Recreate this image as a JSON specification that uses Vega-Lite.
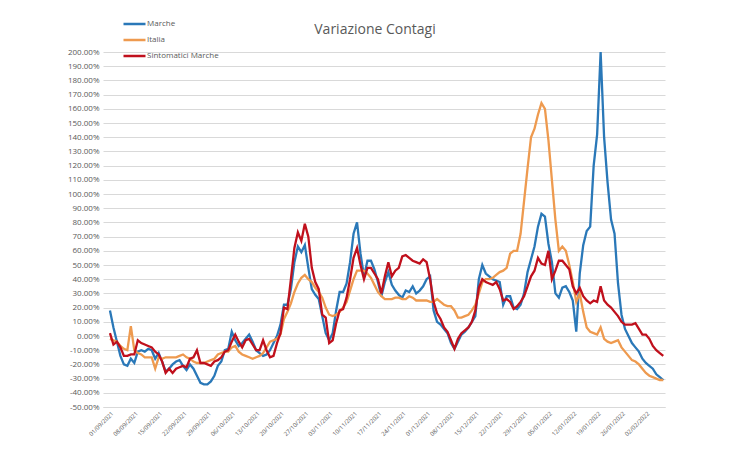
{
  "$schema": "https://vega.github.io/schema/vega-lite/v6.json",
  "width": 562,
  "height": 355,
  "autosize": {"type": "none"},
  "padding": {"left": 103, "top": 52, "right": 85, "bottom": 43},
  "background": "white",
  "config": {"view": {"stroke": null}, "font": "Open Sans"},
  "title": {"text": "Variazione Contagi", "fontSize": 14, "fontWeight": "normal", "color": "#595959", "anchor": "middle", "offset": -21, "dx": -9},
  "data": {"values": [
    {"giorno": "2021-09-01", "Marche": 18, "Italia": -2, "Sintomatici Marche": 2},
    {"giorno": "2021-09-02", "Marche": 6, "Italia": -3, "Sintomatici Marche": -6},
    {"giorno": "2021-09-03", "Marche": -4, "Italia": -4, "Sintomatici Marche": -4},
    {"giorno": "2021-09-04", "Marche": -14, "Italia": -7, "Sintomatici Marche": -8},
    {"giorno": "2021-09-05", "Marche": -20, "Italia": -9, "Sintomatici Marche": -14},
    {"giorno": "2021-09-06", "Marche": -21, "Italia": -10, "Sintomatici Marche": -14},
    {"giorno": "2021-09-07", "Marche": -16, "Italia": 7, "Sintomatici Marche": -13},
    {"giorno": "2021-09-08", "Marche": -19, "Italia": -10, "Sintomatici Marche": -13},
    {"giorno": "2021-09-09", "Marche": -11, "Italia": -12, "Sintomatici Marche": -3},
    {"giorno": "2021-09-10", "Marche": -10, "Italia": -13, "Sintomatici Marche": -5},
    {"giorno": "2021-09-11", "Marche": -11, "Italia": -15, "Sintomatici Marche": -6},
    {"giorno": "2021-09-12", "Marche": -9, "Italia": -15, "Sintomatici Marche": -7},
    {"giorno": "2021-09-13", "Marche": -10, "Italia": -15, "Sintomatici Marche": -8},
    {"giorno": "2021-09-14", "Marche": -16, "Italia": -23, "Sintomatici Marche": -11},
    {"giorno": "2021-09-15", "Marche": -12, "Italia": -15, "Sintomatici Marche": -13},
    {"giorno": "2021-09-16", "Marche": -18, "Italia": -16, "Sintomatici Marche": -18},
    {"giorno": "2021-09-17", "Marche": -25, "Italia": -15, "Sintomatici Marche": -26},
    {"giorno": "2021-09-18", "Marche": -23, "Italia": -15, "Sintomatici Marche": -23},
    {"giorno": "2021-09-19", "Marche": -20, "Italia": -15, "Sintomatici Marche": -26},
    {"giorno": "2021-09-20", "Marche": -18, "Italia": -15, "Sintomatici Marche": -23},
    {"giorno": "2021-09-21", "Marche": -17, "Italia": -14, "Sintomatici Marche": -22},
    {"giorno": "2021-09-22", "Marche": -21, "Italia": -13, "Sintomatici Marche": -21},
    {"giorno": "2021-09-23", "Marche": -24, "Italia": -15, "Sintomatici Marche": -22},
    {"giorno": "2021-09-24", "Marche": -20, "Italia": -16, "Sintomatici Marche": -16},
    {"giorno": "2021-09-25", "Marche": -23, "Italia": -18, "Sintomatici Marche": -15},
    {"giorno": "2021-09-26", "Marche": -28, "Italia": -19, "Sintomatici Marche": -10},
    {"giorno": "2021-09-27", "Marche": -33, "Italia": -19, "Sintomatici Marche": -19},
    {"giorno": "2021-09-28", "Marche": -34, "Italia": -19, "Sintomatici Marche": -19},
    {"giorno": "2021-09-29", "Marche": -34, "Italia": -18, "Sintomatici Marche": -20},
    {"giorno": "2021-09-30", "Marche": -32, "Italia": -17, "Sintomatici Marche": -21},
    {"giorno": "2021-10-01", "Marche": -28, "Italia": -16, "Sintomatici Marche": -18},
    {"giorno": "2021-10-02", "Marche": -21, "Italia": -13, "Sintomatici Marche": -17},
    {"giorno": "2021-10-03", "Marche": -18, "Italia": -12, "Sintomatici Marche": -15},
    {"giorno": "2021-10-04", "Marche": -10, "Italia": -11, "Sintomatici Marche": -11},
    {"giorno": "2021-10-05", "Marche": -9, "Italia": -11, "Sintomatici Marche": -10},
    {"giorno": "2021-10-06", "Marche": 3, "Italia": -8, "Sintomatici Marche": -4},
    {"giorno": "2021-10-07", "Marche": -3, "Italia": -7, "Sintomatici Marche": 1},
    {"giorno": "2021-10-08", "Marche": -7, "Italia": -11, "Sintomatici Marche": -4},
    {"giorno": "2021-10-09", "Marche": -5, "Italia": -13, "Sintomatici Marche": -8},
    {"giorno": "2021-10-10", "Marche": -2, "Italia": -14, "Sintomatici Marche": -3},
    {"giorno": "2021-10-11", "Marche": 1, "Italia": -15, "Sintomatici Marche": -2},
    {"giorno": "2021-10-12", "Marche": -4, "Italia": -16, "Sintomatici Marche": -6},
    {"giorno": "2021-10-13", "Marche": -10, "Italia": -15, "Sintomatici Marche": -10},
    {"giorno": "2021-10-14", "Marche": -12, "Italia": -14, "Sintomatici Marche": -10},
    {"giorno": "2021-10-15", "Marche": -14, "Italia": -12, "Sintomatici Marche": -3},
    {"giorno": "2021-10-16", "Marche": -13, "Italia": -8, "Sintomatici Marche": -10},
    {"giorno": "2021-10-17", "Marche": -10, "Italia": -4, "Sintomatici Marche": -15},
    {"giorno": "2021-10-18", "Marche": -5, "Italia": -3, "Sintomatici Marche": -14},
    {"giorno": "2021-10-19", "Marche": 0, "Italia": -2, "Sintomatici Marche": -5},
    {"giorno": "2021-10-20", "Marche": 8, "Italia": 1, "Sintomatici Marche": 2},
    {"giorno": "2021-10-21", "Marche": 22, "Italia": 12, "Sintomatici Marche": 20},
    {"giorno": "2021-10-22", "Marche": 22, "Italia": 17, "Sintomatici Marche": 19},
    {"giorno": "2021-10-23", "Marche": 33, "Italia": 23, "Sintomatici Marche": 40},
    {"giorno": "2021-10-24", "Marche": 52, "Italia": 31, "Sintomatici Marche": 62},
    {"giorno": "2021-10-25", "Marche": 63, "Italia": 37, "Sintomatici Marche": 73},
    {"giorno": "2021-10-26", "Marche": 59, "Italia": 41, "Sintomatici Marche": 67},
    {"giorno": "2021-10-27", "Marche": 64, "Italia": 43, "Sintomatici Marche": 79},
    {"giorno": "2021-10-28", "Marche": 48, "Italia": 40, "Sintomatici Marche": 70},
    {"giorno": "2021-10-29", "Marche": 33, "Italia": 38, "Sintomatici Marche": 48},
    {"giorno": "2021-10-30", "Marche": 29, "Italia": 34, "Sintomatici Marche": 38},
    {"giorno": "2021-10-31", "Marche": 26, "Italia": 31, "Sintomatici Marche": 33},
    {"giorno": "2021-11-01", "Marche": 14, "Italia": 27, "Sintomatici Marche": 15},
    {"giorno": "2021-11-02", "Marche": 2, "Italia": 20, "Sintomatici Marche": 13},
    {"giorno": "2021-11-03", "Marche": -3, "Italia": 15, "Sintomatici Marche": -5},
    {"giorno": "2021-11-04", "Marche": 2, "Italia": 14, "Sintomatici Marche": -3},
    {"giorno": "2021-11-05", "Marche": 18, "Italia": 15, "Sintomatici Marche": 9},
    {"giorno": "2021-11-06", "Marche": 31, "Italia": 17, "Sintomatici Marche": 18},
    {"giorno": "2021-11-07", "Marche": 31, "Italia": 20, "Sintomatici Marche": 19},
    {"giorno": "2021-11-08", "Marche": 37, "Italia": 24, "Sintomatici Marche": 27},
    {"giorno": "2021-11-09", "Marche": 52, "Italia": 32, "Sintomatici Marche": 40},
    {"giorno": "2021-11-10", "Marche": 72, "Italia": 40, "Sintomatici Marche": 55},
    {"giorno": "2021-11-11", "Marche": 80, "Italia": 46, "Sintomatici Marche": 62},
    {"giorno": "2021-11-12", "Marche": 58, "Italia": 46, "Sintomatici Marche": 50},
    {"giorno": "2021-11-13", "Marche": 42, "Italia": 46, "Sintomatici Marche": 40},
    {"giorno": "2021-11-14", "Marche": 53, "Italia": 44, "Sintomatici Marche": 48},
    {"giorno": "2021-11-15", "Marche": 53, "Italia": 41, "Sintomatici Marche": 48},
    {"giorno": "2021-11-16", "Marche": 47, "Italia": 36, "Sintomatici Marche": 44},
    {"giorno": "2021-11-17", "Marche": 38, "Italia": 31, "Sintomatici Marche": 40},
    {"giorno": "2021-11-18", "Marche": 28, "Italia": 28, "Sintomatici Marche": 30},
    {"giorno": "2021-11-19", "Marche": 38, "Italia": 26, "Sintomatici Marche": 42},
    {"giorno": "2021-11-20", "Marche": 45, "Italia": 26, "Sintomatici Marche": 52},
    {"giorno": "2021-11-21", "Marche": 36, "Italia": 26, "Sintomatici Marche": 42},
    {"giorno": "2021-11-22", "Marche": 32, "Italia": 27, "Sintomatici Marche": 46},
    {"giorno": "2021-11-23", "Marche": 29, "Italia": 27, "Sintomatici Marche": 48},
    {"giorno": "2021-11-24", "Marche": 27, "Italia": 26, "Sintomatici Marche": 56},
    {"giorno": "2021-11-25", "Marche": 32, "Italia": 26, "Sintomatici Marche": 57},
    {"giorno": "2021-11-26", "Marche": 31, "Italia": 28, "Sintomatici Marche": 55},
    {"giorno": "2021-11-27", "Marche": 35, "Italia": 27, "Sintomatici Marche": 53},
    {"giorno": "2021-11-28", "Marche": 30, "Italia": 25, "Sintomatici Marche": 52},
    {"giorno": "2021-11-29", "Marche": 32, "Italia": 25, "Sintomatici Marche": 51},
    {"giorno": "2021-11-30", "Marche": 35, "Italia": 25, "Sintomatici Marche": 54},
    {"giorno": "2021-12-01", "Marche": 40, "Italia": 25, "Sintomatici Marche": 52},
    {"giorno": "2021-12-02", "Marche": 42, "Italia": 24, "Sintomatici Marche": 40},
    {"giorno": "2021-12-03", "Marche": 18, "Italia": 24, "Sintomatici Marche": 24},
    {"giorno": "2021-12-04", "Marche": 10, "Italia": 26, "Sintomatici Marche": 16},
    {"giorno": "2021-12-05", "Marche": 8, "Italia": 24, "Sintomatici Marche": 12},
    {"giorno": "2021-12-06", "Marche": 5, "Italia": 22, "Sintomatici Marche": 6},
    {"giorno": "2021-12-07", "Marche": 2, "Italia": 21, "Sintomatici Marche": 3},
    {"giorno": "2021-12-08", "Marche": -5, "Italia": 21, "Sintomatici Marche": -3},
    {"giorno": "2021-12-09", "Marche": -9, "Italia": 18, "Sintomatici Marche": -9},
    {"giorno": "2021-12-10", "Marche": -4, "Italia": 13, "Sintomatici Marche": -2},
    {"giorno": "2021-12-11", "Marche": 1, "Italia": 13, "Sintomatici Marche": 2},
    {"giorno": "2021-12-12", "Marche": 3, "Italia": 14, "Sintomatici Marche": 4},
    {"giorno": "2021-12-13", "Marche": 6, "Italia": 15, "Sintomatici Marche": 6},
    {"giorno": "2021-12-14", "Marche": 10, "Italia": 18, "Sintomatici Marche": 10},
    {"giorno": "2021-12-15", "Marche": 14, "Italia": 22, "Sintomatici Marche": 18},
    {"giorno": "2021-12-16", "Marche": 40, "Italia": 30, "Sintomatici Marche": 34},
    {"giorno": "2021-12-17", "Marche": 50, "Italia": 38, "Sintomatici Marche": 40},
    {"giorno": "2021-12-18", "Marche": 44, "Italia": 40, "Sintomatici Marche": 38},
    {"giorno": "2021-12-19", "Marche": 42, "Italia": 40, "Sintomatici Marche": 37},
    {"giorno": "2021-12-20", "Marche": 40, "Italia": 41, "Sintomatici Marche": 36},
    {"giorno": "2021-12-21", "Marche": 39, "Italia": 43, "Sintomatici Marche": 38},
    {"giorno": "2021-12-22", "Marche": 38, "Italia": 45, "Sintomatici Marche": 33},
    {"giorno": "2021-12-23", "Marche": 22, "Italia": 46, "Sintomatici Marche": 25},
    {"giorno": "2021-12-24", "Marche": 28, "Italia": 48, "Sintomatici Marche": 26},
    {"giorno": "2021-12-25", "Marche": 28, "Italia": 58, "Sintomatici Marche": 24},
    {"giorno": "2021-12-26", "Marche": 20, "Italia": 60, "Sintomatici Marche": 19},
    {"giorno": "2021-12-27", "Marche": 19, "Italia": 60, "Sintomatici Marche": 21},
    {"giorno": "2021-12-28", "Marche": 22, "Italia": 72, "Sintomatici Marche": 24},
    {"giorno": "2021-12-29", "Marche": 30, "Italia": 95, "Sintomatici Marche": 28},
    {"giorno": "2021-12-30", "Marche": 45, "Italia": 118, "Sintomatici Marche": 35},
    {"giorno": "2021-12-31", "Marche": 54, "Italia": 140, "Sintomatici Marche": 42},
    {"giorno": "2022-01-01", "Marche": 63, "Italia": 146, "Sintomatici Marche": 46},
    {"giorno": "2022-01-02", "Marche": 77, "Italia": 156, "Sintomatici Marche": 55},
    {"giorno": "2022-01-03", "Marche": 86, "Italia": 164, "Sintomatici Marche": 51},
    {"giorno": "2022-01-04", "Marche": 84, "Italia": 160, "Sintomatici Marche": 50},
    {"giorno": "2022-01-05", "Marche": 65, "Italia": 138, "Sintomatici Marche": 60},
    {"giorno": "2022-01-06", "Marche": 52, "Italia": 110, "Sintomatici Marche": 40},
    {"giorno": "2022-01-07", "Marche": 30, "Italia": 82, "Sintomatici Marche": 46},
    {"giorno": "2022-01-08", "Marche": 27, "Italia": 60, "Sintomatici Marche": 53},
    {"giorno": "2022-01-09", "Marche": 34, "Italia": 63, "Sintomatici Marche": 53},
    {"giorno": "2022-01-10", "Marche": 35, "Italia": 60, "Sintomatici Marche": 50},
    {"giorno": "2022-01-11", "Marche": 31, "Italia": 50, "Sintomatici Marche": 47},
    {"giorno": "2022-01-12", "Marche": 25, "Italia": 38, "Sintomatici Marche": 35},
    {"giorno": "2022-01-13", "Marche": 3, "Italia": 24, "Sintomatici Marche": 30},
    {"giorno": "2022-01-14", "Marche": 44, "Italia": 30, "Sintomatici Marche": 34},
    {"giorno": "2022-01-15", "Marche": 64, "Italia": 17, "Sintomatici Marche": 28},
    {"giorno": "2022-01-16", "Marche": 74, "Italia": 6, "Sintomatici Marche": 25},
    {"giorno": "2022-01-17", "Marche": 77, "Italia": 3, "Sintomatici Marche": 23},
    {"giorno": "2022-01-18", "Marche": 120, "Italia": 2, "Sintomatici Marche": 25},
    {"giorno": "2022-01-19", "Marche": 142, "Italia": 1, "Sintomatici Marche": 24},
    {"giorno": "2022-01-20", "Marche": 200, "Italia": 6, "Sintomatici Marche": 35},
    {"giorno": "2022-01-21", "Marche": 140, "Italia": -2, "Sintomatici Marche": 25},
    {"giorno": "2022-01-22", "Marche": 108, "Italia": -4, "Sintomatici Marche": 22},
    {"giorno": "2022-01-23", "Marche": 82, "Italia": -5, "Sintomatici Marche": 20},
    {"giorno": "2022-01-24", "Marche": 72, "Italia": -4, "Sintomatici Marche": 17},
    {"giorno": "2022-01-25", "Marche": 37, "Italia": -3, "Sintomatici Marche": 14},
    {"giorno": "2022-01-26", "Marche": 15, "Italia": -8, "Sintomatici Marche": 10},
    {"giorno": "2022-01-27", "Marche": 5, "Italia": -11, "Sintomatici Marche": 8},
    {"giorno": "2022-01-28", "Marche": 0, "Italia": -14, "Sintomatici Marche": 8},
    {"giorno": "2022-01-29", "Marche": -5, "Italia": -17, "Sintomatici Marche": 8},
    {"giorno": "2022-01-30", "Marche": -8, "Italia": -18, "Sintomatici Marche": 9},
    {"giorno": "2022-01-31", "Marche": -11, "Italia": -20, "Sintomatici Marche": 5},
    {"giorno": "2022-02-01", "Marche": -16, "Italia": -23, "Sintomatici Marche": 1},
    {"giorno": "2022-02-02", "Marche": -19, "Italia": -26, "Sintomatici Marche": 1},
    {"giorno": "2022-02-03", "Marche": -21, "Italia": -28, "Sintomatici Marche": -2},
    {"giorno": "2022-02-04", "Marche": -23, "Italia": -29, "Sintomatici Marche": -7},
    {"giorno": "2022-02-05", "Marche": -27, "Italia": -30, "Sintomatici Marche": -10},
    {"giorno": "2022-02-06", "Marche": -29, "Italia": -31, "Sintomatici Marche": -12},
    {"giorno": "2022-02-07", "Marche": -31, "Italia": -31, "Sintomatici Marche": -14}
  ]},
  "transform": [{"fold": ["Marche", "Italia", "Sintomatici Marche"], "as": ["serie", "valore"]}],
  "mark": {"type": "line", "strokeWidth": 2.3},
  "encoding": {
    "x": {
      "field": "giorno", "type": "temporal",
      "scale": {"type": "utc", "domain": [{"year": 2021, "month": "aug", "date": 30, "utc": true}, {"year": 2022, "month": "feb", "date": 7, "hours": 12, "utc": true}]},
      "axis": {
        "title": null, "grid": false, "ticks": false, "domain": true, "domainColor": "#d9d9d9",
        "labelAngle": -45, "labelFontSize": 6, "labelColor": "#595959", "labelPadding": 3,
        "labelOverlap": false,
        "labelExpr": "utcFormat(datum.value, '%d/%m/%Y')",
        "values": [
          {"year": 2021, "month": "sep", "date": 1, "utc": true},
          {"year": 2021, "month": "sep", "date": 8, "utc": true},
          {"year": 2021, "month": "sep", "date": 15, "utc": true},
          {"year": 2021, "month": "sep", "date": 22, "utc": true},
          {"year": 2021, "month": "sep", "date": 29, "utc": true},
          {"year": 2021, "month": "oct", "date": 6, "utc": true},
          {"year": 2021, "month": "oct", "date": 13, "utc": true},
          {"year": 2021, "month": "oct", "date": 20, "utc": true},
          {"year": 2021, "month": "oct", "date": 27, "utc": true},
          {"year": 2021, "month": "nov", "date": 3, "utc": true},
          {"year": 2021, "month": "nov", "date": 10, "utc": true},
          {"year": 2021, "month": "nov", "date": 17, "utc": true},
          {"year": 2021, "month": "nov", "date": 24, "utc": true},
          {"year": 2021, "month": "dec", "date": 1, "utc": true},
          {"year": 2021, "month": "dec", "date": 8, "utc": true},
          {"year": 2021, "month": "dec", "date": 15, "utc": true},
          {"year": 2021, "month": "dec", "date": 22, "utc": true},
          {"year": 2021, "month": "dec", "date": 29, "utc": true},
          {"year": 2022, "month": "jan", "date": 5, "utc": true},
          {"year": 2022, "month": "jan", "date": 12, "utc": true},
          {"year": 2022, "month": "jan", "date": 19, "utc": true},
          {"year": 2022, "month": "jan", "date": 26, "utc": true},
          {"year": 2022, "month": "feb", "date": 2, "utc": true}
        ]
      }
    },
    "y": {
      "field": "valore", "type": "quantitative",
      "scale": {"domain": [-50, 200], "nice": false, "zero": false},
      "axis": {
        "title": null, "grid": true, "gridColor": "#d9d9d9", "gridWidth": 1, "domain": false, "ticks": false,
        "labelFontSize": 8, "labelColor": "#595959", "labelPadding": 4,
        "values": [-50, -40, -30, -20, -10, 0, 10, 20, 30, 40, 50, 60, 70, 80, 90, 100, 110, 120, 130, 140, 150, 160, 170, 180, 190, 200],
        "labelExpr": "(datum.value < 0 ? '-' : '') + format(abs(datum.value), '.2f') + '%'"
      }
    },
    "color": {
      "field": "serie", "type": "nominal",
      "scale": {"domain": ["Marche", "Italia", "Sintomatici Marche"], "range": ["#2a78b8", "#ee9a4f", "#c0101c"]},
      "legend": {
        "title": null, "orient": "none", "legendX": 19, "legendY": -36, "direction": "vertical",
        "symbolType": "stroke", "symbolSize": 484, "symbolStrokeWidth": 2.5, "clipHeight": 16,
        "labelFontSize": 8, "labelColor": "#595959", "labelOffset": 0, "rowPadding": 0, "padding": 0
      }
    }
  }
}
